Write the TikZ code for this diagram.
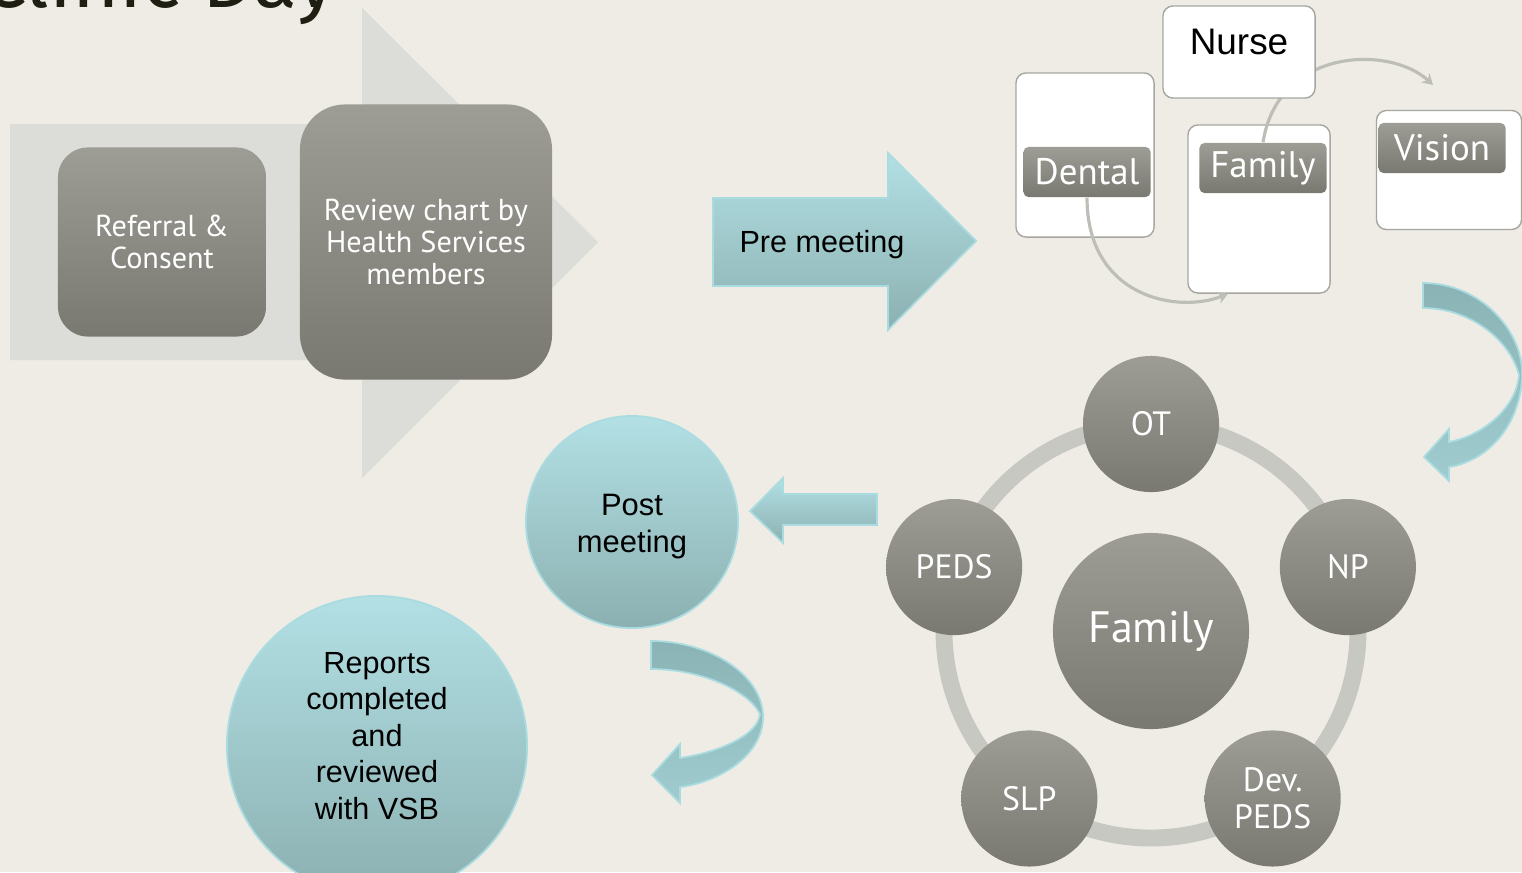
\documentclass[tikz,border=0pt]{standalone}
\usepackage{fontspec}
\setmainfont{Liberation Sans}
\newfontfamily\labelfont{PT Sans}
\newfontfamily\titlefont{Fira Sans}
\usetikzlibrary{arrows.meta}

\definecolor{pagebg}{HTML}{EEECE4}
\definecolor{flowgray}{HTML}{DCDCD9}
\definecolor{boxtop}{HTML}{9D9D96}
\definecolor{boxbot}{HTML}{797972}
\definecolor{tealtop}{HTML}{B2E0E4}
\definecolor{tealbot}{HTML}{8CB0B1}
\definecolor{tealedge}{HTML}{A9DCE1}
\definecolor{curltop}{HTML}{8AB3B5}
\definecolor{curlbot}{HTML}{A0CCCF}
\definecolor{ringgray}{HTML}{C8C8C2}
\definecolor{linkgray}{HTML}{BEBEB8}
\definecolor{cardedge}{HTML}{A6A6A1}
\definecolor{titleink}{HTML}{1E1E12}

\tikzset{
  flowbox/.style={rounded corners=0.3cm, top color=boxtop, bottom color=boxbot,
    text=white, align=center, inner sep=0pt, font=\labelfont\fontsize{8.6}{9}\selectfont},
  tealshape/.style={draw=tealedge, line width=0.5pt, top color=tealtop, bottom color=tealbot},
  curlarrow/.style={draw=tealedge, line width=0.5pt, top color=curltop, bottom color=curlbot},
  blacktext/.style={text=black, align=center, font=\fontsize{8.7}{10.5}\selectfont},
  card/.style={draw=cardedge, fill=white, rounded corners=0.1cm, line width=0.4pt, inner sep=0pt},
  cardlabel/.style={rounded corners=0.05cm, top color=boxtop, bottom color=boxbot, text=white,
    minimum width=1.27cm, minimum height=0.5cm, inner sep=0pt, font=\labelfont\fontsize{10.5}{12}\selectfont},
  link/.style={draw=linkgray, line width=0.9pt, -{Stealth[length=3pt,width=3.5pt]}},
  member/.style={circle, minimum size=1.36cm, inner sep=0pt, top color=boxtop, bottom color=boxbot,
    text=white, align=center, font=\labelfont\fontsize{9.6}{10.5}\selectfont},
}

\begin{document}
\begin{tikzpicture}[x=0.01cm,y=-0.01cm]
\useasboundingbox (0,0) rectangle (1522,872);
\clip (0,0) rectangle (1522,872);
\fill[pagebg] (0,0) rectangle (1522,872);

% title, cut by the top edge
\node[anchor=base east, inner sep=0pt, text=titleink, font=\titlefont\fontsize{23}{26}\selectfont] (title) at (337,7) {Clinic Day};

% --- first steps ---
\fill[flowgray] (10,124) -- (362,124) -- (362,8) -- (598,242) -- (362,478) -- (362,360) -- (10,360) -- cycle;
\node[flowbox, minimum width=2.08cm, minimum height=1.89cm] (referral) at (162,242) {Referral \&\\Consent};
\node[flowbox, rounded corners=0.45cm, minimum width=2.52cm, minimum height=2.75cm] (review) at (426,242) {Review chart by\\Health Services\\members};

% pre meeting
\draw[tealshape] (713,198) -- (888,198) -- (888,153) -- (976,241) -- (888,330) -- (888,286) -- (713,286) -- cycle;
\node[blacktext] (pre) at (822,245) {Pre meeting};

% --- pre meeting group ---
\node[card, minimum width=1.38cm, minimum height=1.64cm] (dentalBox) at (1085,155) {};
\node[cardlabel] (dental) at (1087,172) {Dental};
\node[card, minimum width=1.42cm, minimum height=1.68cm] (famBox) at (1259,209) {};
\node[cardlabel] (famLab) at (1263,168) {Family};
\draw[link] (dental.south) .. controls +(0,100) and +(-50,20) .. ([xshift=-0.31cm]famBox.south);
\draw[link] (famLab.north) .. controls +(15,-95) and +(-43,-40) .. (1433,85);
\node[card, minimum width=1.52cm, minimum height=0.92cm] (nurseBox) at (1239,52) {};
\node[blacktext, font=\fontsize{10.5}{12}\selectfont] (nurse) at (1239,42) {Nurse};
\node[card, minimum width=1.45cm, minimum height=1.19cm] (visBox) at (1449,170) {};
\node[cardlabel] (vision) at (1442,148) {Vision};

% curled arrows
\draw[curlarrow] (1423,283) .. controls (1480,283) and (1522,330) .. (1522,373)
  .. controls (1522,420) and (1492,460) .. (1449,467) -- (1449,481) -- (1424,457) -- (1449,429) -- (1449,442)
  .. controls (1486,435) and (1517,405) .. (1519,375)
  .. controls (1510,340) and (1470,308) .. (1423,308) -- cycle;
\draw[curlarrow] (651,641) .. controls (710,641) and (763,675) .. (763,717)
  .. controls (763,755) and (720,782) .. (680,787) -- (680,803) -- (652,775) -- (680,744) -- (680,758)
  .. controls (720,752) and (758,735) .. (760,714)
  .. controls (748,690) and (700,669) .. (651,669) -- cycle;

% post meeting
\draw[tealshape] (877,494) -- (783,494) -- (783,478) -- (750,511) -- (783,543) -- (783,525) -- (877,525) -- cycle;
\node[circle, tealshape, minimum size=2.12cm] (post) at (632,522) {};
\node[blacktext, font=\fontsize{8.8}{10.5}\selectfont] (postText) at (632,527) {Post\\meeting};
\node[circle, tealshape, minimum size=3cm] (reports) at (377,746) {};
\node[blacktext, font=\fontsize{8.7}{10.4}\selectfont] (reportsText) at (377,736) {Reports\\completed\\and\\reviewed\\with VSB};

% --- clinic team ---
\draw[ringgray, line width=4.8pt] (1151,631) circle[radius=207];
\node[circle, minimum size=1.96cm, inner sep=0pt, top color=boxtop, bottom color=boxbot, text=white,
  font=\labelfont\fontsize{12.5}{14}\selectfont] (family) at (1151,631) {Family};
\foreach \name/\ang/\txt in {ot/-90/OT, np/-18/NP, devpeds/54/{Dev.\\PEDS}, slp/126/SLP, peds/198/PEDS}
  \node[member] (\name) at ([shift={(\ang:207)}]family.center) {\txt};

\end{tikzpicture}
\end{document}
